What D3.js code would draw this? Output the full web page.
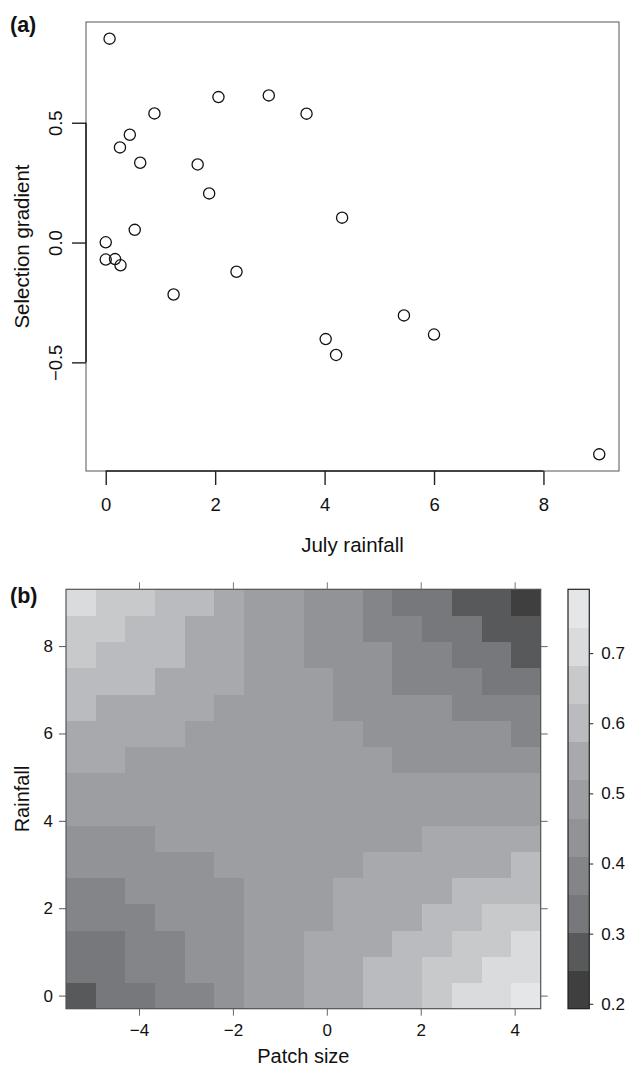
<!DOCTYPE html>
<html>
<head>
<meta charset="utf-8">
<script src="https://cdn.jsdelivr.net/npm/d3@7"></script>
<style>
  body { margin: 0; background: #fff; }
  svg { font-family: "Liberation Sans", Arial, Helvetica, sans-serif; }
</style>
</head>
<body>
<div id="chart"></div>
<script>
// ---- panel (a): selection gradient against July rainfall ----
let rainfall = [0.07, 2.06, 2.98, 3.67, 0.89, 0.44, 0.26, 0.63, 1.68, 1.89, 0.53, 0.0,
                0.0, 0.17, 0.27, 2.39, 1.24, 4.32, 4.02, 4.21, 5.45, 6.0, 9.02];
let gradient = [0.851, 0.607, 0.614, 0.538, 0.539, 0.45, 0.397, 0.333, 0.326, 0.205, 0.053, 0.001,
                -0.071, -0.069, -0.095, -0.122, -0.217, 0.104, -0.403, -0.469, -0.304, -0.384, -0.884];
let xTicksA = [0, 2, 4, 6, 8];
let yTicksA = [-0.5, 0, 0.5];

// ---- panel (b): fitted surface, patch size x rainfall ----
let patchSize = [-5.24, -4.61, -3.98, -3.34, -2.71, -2.08, -1.45, -0.82,
                 -0.18, 0.45, 1.08, 1.71, 2.34, 2.98, 3.61, 4.24];
let rainGrid = [0, 0.6, 1.2, 1.8, 2.4, 3.0, 3.6, 4.2, 4.8, 5.4, 6.0, 6.6, 7.2, 7.8, 8.4, 9.0];
// one row per rainfall value (bottom row first), one column per patch size
let surface = [
  [0.27, 0.33, 0.33, 0.38, 0.38, 0.44, 0.49, 0.49, 0.55, 0.55, 0.60, 0.60, 0.65, 0.71, 0.71, 0.76],
  [0.33, 0.33, 0.38, 0.38, 0.44, 0.44, 0.49, 0.49, 0.55, 0.55, 0.60, 0.60, 0.65, 0.65, 0.71, 0.71],
  [0.33, 0.33, 0.38, 0.38, 0.44, 0.44, 0.49, 0.49, 0.55, 0.55, 0.55, 0.60, 0.60, 0.65, 0.65, 0.71],
  [0.38, 0.38, 0.38, 0.44, 0.44, 0.44, 0.49, 0.49, 0.49, 0.55, 0.55, 0.55, 0.60, 0.60, 0.65, 0.65],
  [0.38, 0.38, 0.44, 0.44, 0.44, 0.44, 0.49, 0.49, 0.49, 0.55, 0.55, 0.55, 0.55, 0.60, 0.60, 0.60],
  [0.44, 0.44, 0.44, 0.44, 0.44, 0.49, 0.49, 0.49, 0.49, 0.49, 0.55, 0.55, 0.55, 0.55, 0.55, 0.60],
  [0.44, 0.44, 0.44, 0.49, 0.49, 0.49, 0.49, 0.49, 0.49, 0.49, 0.49, 0.49, 0.55, 0.55, 0.55, 0.55],
  [0.49, 0.49, 0.49, 0.49, 0.49, 0.49, 0.49, 0.49, 0.49, 0.49, 0.49, 0.49, 0.49, 0.49, 0.49, 0.49],
  [0.49, 0.49, 0.49, 0.49, 0.49, 0.49, 0.49, 0.49, 0.49, 0.49, 0.49, 0.49, 0.49, 0.49, 0.49, 0.49],
  [0.55, 0.55, 0.49, 0.49, 0.49, 0.49, 0.49, 0.49, 0.49, 0.49, 0.49, 0.44, 0.44, 0.44, 0.44, 0.44],
  [0.55, 0.55, 0.55, 0.55, 0.49, 0.49, 0.49, 0.49, 0.49, 0.49, 0.44, 0.44, 0.44, 0.44, 0.44, 0.38],
  [0.60, 0.55, 0.55, 0.55, 0.55, 0.49, 0.49, 0.49, 0.49, 0.44, 0.44, 0.44, 0.44, 0.38, 0.38, 0.38],
  [0.60, 0.60, 0.60, 0.55, 0.55, 0.55, 0.49, 0.49, 0.49, 0.44, 0.44, 0.38, 0.38, 0.38, 0.33, 0.33],
  [0.65, 0.60, 0.60, 0.60, 0.55, 0.55, 0.49, 0.49, 0.44, 0.44, 0.44, 0.38, 0.38, 0.33, 0.33, 0.27],
  [0.65, 0.65, 0.60, 0.60, 0.55, 0.55, 0.49, 0.49, 0.44, 0.44, 0.38, 0.38, 0.33, 0.33, 0.27, 0.27],
  [0.71, 0.65, 0.65, 0.60, 0.60, 0.55, 0.49, 0.49, 0.44, 0.44, 0.38, 0.33, 0.33, 0.27, 0.27, 0.22]
];
let zLimits = [0.193, 0.791];
let greys = ["#3f3f40", "#58595b", "#77787b", "#848589", "#929397", "#9d9ea2",
             "#a8a9ac", "#babbbe", "#c8c9cb", "#dadbdd", "#e5e6e7"];
let xTicksB = [-4, -2, 0, 2, 4];
let yTicksB = [0, 2, 4, 6, 8];
let zTicks = [0.2, 0.3, 0.4, 0.5, 0.6, 0.7];

let svg = d3.select("#chart")
    .append("svg")
    .attr("width", 630)
    .attr("height", 1067);

// R style axis range: data extent padded by 4% on each side
function padded(ext) {
    let p = (ext[1] - ext[0]) * 0.04;
    return [ext[0] - p, ext[1] + p];
}

function styleAxis(g, size) {
    g.attr("font-size", null).attr("font-family", null).attr("color", "#222");
    g.select(".domain").remove();
    g.selectAll("text").style("font-size", size + "px").attr("fill", "#111");
}

// ================= panel (a) =================
let boxA = {left: 86, top: 22, right: 619, bottom: 471};

let xA = d3.scaleLinear().domain(padded(d3.extent(rainfall))).range([boxA.left, boxA.right]);
let yA = d3.scaleLinear().domain(padded(d3.extent(gradient))).range([boxA.bottom, boxA.top]);

svg.append("rect")
    .attr("x", boxA.left).attr("y", boxA.top)
    .attr("width", boxA.right - boxA.left).attr("height", boxA.bottom - boxA.top)
    .attr("fill", "none").attr("stroke", "#555").attr("stroke-width", 1);

let gxA = svg.append("g")
    .attr("transform", `translate(0,${boxA.bottom})`)
    .call(d3.axisBottom(xA).tickValues(xTicksA).tickSize(14).tickPadding(13).tickFormat(d3.format("d")));
styleAxis(gxA, 18.5);
gxA.append("line")
    .attr("x1", xA(xTicksA[0])).attr("x2", xA(xTicksA[xTicksA.length - 1]))
    .attr("stroke", "#222").attr("stroke-width", 1.6);
gxA.selectAll(".tick line").attr("stroke-width", 1.4);

let gyA = svg.append("g")
    .attr("transform", `translate(${boxA.left},0)`)
    .call(d3.axisLeft(yA).tickValues(yTicksA).tickSize(14).tickFormat(d3.format(".1f")));
styleAxis(gyA, 18.5);
gyA.append("line")
    .attr("y1", yA(yTicksA[0])).attr("y2", yA(yTicksA[yTicksA.length - 1]))
    .attr("stroke", "#222").attr("stroke-width", 1.6);
gyA.selectAll(".tick line").attr("stroke-width", 1.4);
gyA.selectAll("text")
    .attr("x", 0).attr("dy", null)
    .attr("text-anchor", "middle")
    .attr("transform", "translate(-24,0) rotate(-90)");

svg.append("g")
    .selectAll("circle")
    .data(rainfall)
    .enter()
    .append("circle")
    .attr("cx", d => xA(d))
    .attr("cy", (d, i) => yA(gradient[i]))
    .attr("r", 5.6)
    .attr("fill", "none")
    .attr("stroke", "#111")
    .attr("stroke-width", 1.3);

svg.append("text")
    .attr("x", (boxA.left + boxA.right) / 2).attr("y", 552)
    .attr("text-anchor", "middle")
    .style("font-size", "20.5px").attr("fill", "#111")
    .text("July rainfall");

svg.append("text")
    .attr("transform", `translate(29,${(boxA.top + boxA.bottom) / 2}) rotate(-90)`)
    .attr("text-anchor", "middle")
    .style("font-size", "20.5px").attr("fill", "#111")
    .text("Selection gradient");

svg.append("text")
    .attr("x", 10).attr("y", 32)
    .style("font-size", "21.5px").style("font-weight", "bold").attr("fill", "#111")
    .text("(a)");

// ================= panel (b) =================
let boxB = {left: 66, top: 589.3, right: 540.7, bottom: 1008.7};
let halfX = (patchSize[1] - patchSize[0]) / 2;
let halfY = (rainGrid[1] - rainGrid[0]) / 2;

let xB = d3.scaleLinear()
    .domain([patchSize[0] - halfX, patchSize[patchSize.length - 1] + halfX])
    .range([boxB.left, boxB.right]);
let yB = d3.scaleLinear()
    .domain([rainGrid[0] - halfY, rainGrid[rainGrid.length - 1] + halfY])
    .range([boxB.bottom, boxB.top]);
let zColor = d3.scaleQuantize().domain(zLimits).range(greys);

let cells = [];
surface.forEach((row, i) => row.forEach((z, j) => cells.push({rain: rainGrid[i], patch: patchSize[j], z: z})));

svg.append("g")
    .attr("shape-rendering", "crispEdges")
    .selectAll("rect")
    .data(cells)
    .enter()
    .append("rect")
    .attr("x", d => xB(d.patch - halfX))
    .attr("y", d => yB(d.rain + halfY))
    .attr("width", d => xB(d.patch + halfX) - xB(d.patch - halfX) + 0.5)
    .attr("height", d => yB(d.rain - halfY) - yB(d.rain + halfY) + 0.5)
    .attr("fill", d => zColor(d.z));

svg.append("rect")
    .attr("x", boxB.left).attr("y", boxB.top)
    .attr("width", boxB.right - boxB.left).attr("height", boxB.bottom - boxB.top)
    .attr("fill", "none").attr("stroke", "#555").attr("stroke-width", 1.2);

let gxB = svg.append("g")
    .attr("transform", `translate(0,${boxB.bottom})`)
    .call(d3.axisBottom(xB).tickValues(xTicksB).tickSize(7).tickPadding(8).tickFormat(d3.format("d")));
styleAxis(gxB, 17);
gxB.attr("color", "#666");

let gyB = svg.append("g")
    .attr("transform", `translate(${boxB.left},0)`)
    .call(d3.axisLeft(yB).tickValues(yTicksB).tickSize(7).tickPadding(6).tickFormat(d3.format("d")));
styleAxis(gyB, 17);
gyB.attr("color", "#555");

let gtB = svg.append("g")
    .attr("transform", `translate(0,${boxB.top})`)
    .call(d3.axisTop(xB).tickValues(xTicksB).tickSize(7).tickFormat(""));
styleAxis(gtB, 17);
gtB.attr("color", "#777");

let grB = svg.append("g")
    .attr("transform", `translate(${boxB.right},0)`)
    .call(d3.axisRight(yB).tickValues(yTicksB).tickSize(7).tickFormat(""));
styleAxis(grB, 17);
grB.attr("color", "#666");

svg.append("text")
    .attr("x", (boxB.left + boxB.right) / 2).attr("y", 1063)
    .attr("text-anchor", "middle")
    .style("font-size", "20px").attr("fill", "#111")
    .text("Patch size");

svg.append("text")
    .attr("transform", `translate(29,${(boxB.top + boxB.bottom) / 2}) rotate(-90)`)
    .attr("text-anchor", "middle")
    .style("font-size", "20px").attr("fill", "#111")
    .text("Rainfall");

svg.append("text")
    .attr("x", 10).attr("y", 603)
    .style("font-size", "21.5px").style("font-weight", "bold").attr("fill", "#111")
    .text("(b)");

// ---- colour key ----
let key = {left: 568, right: 589.3};
let zKey = d3.scaleLinear().domain(zLimits).range([boxB.bottom, boxB.top]);

svg.append("g")
    .attr("shape-rendering", "crispEdges")
    .selectAll("rect")
    .data(greys)
    .enter()
    .append("rect")
    .attr("x", key.left)
    .attr("width", key.right - key.left)
    .attr("y", d => zKey(zColor.invertExtent(d)[1]))
    .attr("height", d => zKey(zColor.invertExtent(d)[0]) - zKey(zColor.invertExtent(d)[1]) + 0.5)
    .attr("fill", d => d);

svg.append("rect")
    .attr("x", key.left).attr("y", boxB.top)
    .attr("width", key.right - key.left).attr("height", boxB.bottom - boxB.top)
    .attr("fill", "none").attr("stroke", "#222").attr("stroke-width", 1.2);

let gKey = svg.append("g")
    .attr("transform", `translate(${key.right},0)`)
    .call(d3.axisRight(zKey).tickValues(zTicks).tickSize(4).tickPadding(8).tickFormat(d3.format(".1f")));
styleAxis(gKey, 17);
</script>
</body>
</html>
